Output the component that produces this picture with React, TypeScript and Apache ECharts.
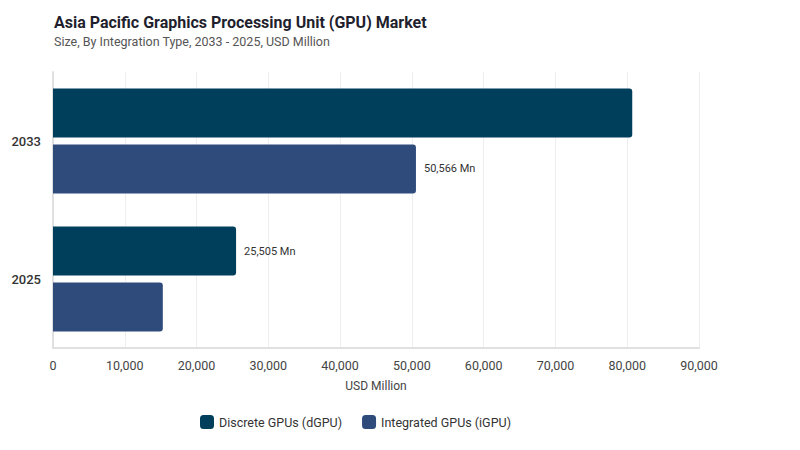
import React, { useEffect, useRef } from "react";
import * as echarts from "echarts";

const categories = ["2025", "2033"];
const seriesNames = ["Discrete GPUs (dGPU)", "Integrated GPUs (iGPU)"];
const dgpuValues = [25505, 80700];
const igpuValues = [15300, 50566];
const labelledDgpu = [true, false];
const labelledIgpu = [false, true];
const colors = ["#003f5c", "#2f4b7c"];

const FONT = "Roboto, 'Noto Sans', sans-serif";

function fmt(v: number) {
  return v.toLocaleString("en-US") + " Mn";
}

export default function App() {
  const ref = useRef<HTMLDivElement>(null);
  useEffect(() => {
    const chart = echarts.init(ref.current!, undefined, { renderer: "svg" });
    const mk = (vals: number[], flags: boolean[]) =>
      vals.map((v, i) => ({
        value: v,
        label: { show: flags[i] },
      }));
    chart.setOption({
      animation: false,
      textStyle: { fontFamily: FONT },
      title: {
        text: "Asia Pacific Graphics Processing Unit (GPU) Market",
        subtext: "Size, By Integration Type, 2033 - 2025, USD Million",
        left: 41,
        top: 1,
        itemGap: 5,
        textStyle: { fontFamily: FONT, fontSize: 16, fontWeight: "bold", color: "#1f1f2e" },
        subtextStyle: { fontFamily: FONT, fontSize: 12.5, color: "#555" },
      },
      legend: {
        bottom: 24,
        left: 187,
        itemWidth: 14,
        itemHeight: 14,
        itemGap: 20,
        icon: "roundRect",
        textStyle: { fontFamily: FONT, fontSize: 12.5, color: "#333" },
        data: seriesNames,
      },
      grid: { left: 45, right: 109, top: 64, bottom: 110, containLabel: false },
      xAxis: {
        type: "value",
        min: 0,
        max: 90000,
        interval: 10000,
        name: "USD Million",
        nameLocation: "middle",
        nameGap: 32,
        nameTextStyle: { fontFamily: FONT, fontSize: 12, color: "#444" },
        axisLine: { show: true, lineStyle: { color: "#e0e0e0", width: 2 } },
        axisTick: { show: false },
        axisLabel: {
          fontFamily: FONT,
          fontSize: 12.5,
          color: "#444",
          margin: 11,
          formatter: (v: number) => v.toLocaleString("en-US"),
        },
        splitLine: { show: true, lineStyle: { color: "#eeeeee", width: 1 } },
      },
      yAxis: {
        type: "category",
        data: categories,
        axisLine: { show: true, lineStyle: { color: "#e0e0e0", width: 2 } },
        axisTick: { show: false },
        axisLabel: { fontFamily: FONT, fontSize: 13, fontWeight: 500, color: "#333", margin: 12 },
      },
      series: [
        {
          name: seriesNames[0],
          type: "bar",
          data: mk(dgpuValues, labelledDgpu),
          barCategoryGap: "24%",
          barGap: "14%",
          itemStyle: { color: colors[0], borderRadius: [0, 3, 3, 0] },
          label: {
            position: "right",
            distance: 8,
            fontFamily: FONT,
            fontSize: 11,
            color: "#333",
            formatter: (p: any) => fmt(p.value),
          },
        },
        {
          name: seriesNames[1],
          type: "bar",
          data: mk(igpuValues, labelledIgpu),
          barCategoryGap: "24%",
          barGap: "14%",
          itemStyle: { color: colors[1], borderRadius: [0, 3, 3, 0] },
          label: {
            position: "right",
            distance: 8,
            fontFamily: FONT,
            fontSize: 11,
            color: "#333",
            formatter: (p: any) => fmt(p.value),
          },
        },
      ],
    });
    return () => chart.dispose();
  }, []);
  return <div ref={ref} style={{ width: 800, height: 450 }} />;
}
